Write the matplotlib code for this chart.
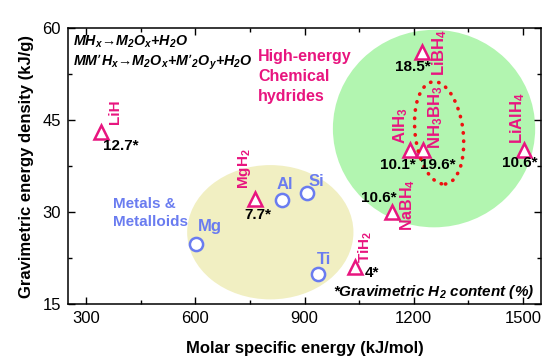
import matplotlib
matplotlib.use('Agg')
import matplotlib.pyplot as plt
from matplotlib.patches import Ellipse
from matplotlib.transforms import ScaledTranslation

plt.rcParams.update({
    'font.family': ['Liberation Sans', 'DejaVu Sans'],
    'mathtext.default': 'regular',
    'font.size': 12,
})

PINK = '#E8157F'
BLUE = '#6A7CF0'

# hydrides: molar specific energy (kJ/mol), gravimetric energy density (kJ/g), H2 wt%
hyd_names = ['LiH', 'MgH$_2$', 'TiH$_2$', 'NaBH$_4$', 'AlH$_3$', 'NH$_3$BH$_3$', 'LiBH$_4$', 'LiAlH$_4$']
hyd_x = [340, 763, 1038, 1140, 1190, 1225, 1222, 1502]
hyd_y = [43.0, 32.1, 21.0, 30.0, 40.1, 40.1, 56.1, 40.1]
hyd_h2 = ['12.7', '7.7', '4', '10.6', '10.1', '19.6', '18.5', '10.6']

# metals & metalloids
met_names = ['Mg', 'Al', 'Si', 'Ti']
met_x = [601, 838, 907, 937]
met_y = [24.8, 32.0, 33.1, 19.9]

# label offsets in pixels (name label, wt% label)
name_off = [(14, 8), (-10, 10), (11, 4), (16, 7), (-9, 6), (13, 1), (18, 0), (-6, 6)]
name_va = ['bottom', 'bottom', 'bottom', 'center', 'bottom', 'bottom', 'center', 'bottom']
name_fs = [11, 11, 11, 11.5, 12, 12, 12, 12]
h2_off = [(20, -14), (3, -16), (17, -6), (-13, 14), (-12, -15), (15, -15), (-9, -15), (-4, -13)]
met_off = [(14, 17), (3, 15), (9, 11), (6, 14)]

fig = plt.figure(figsize=(5.44, 3.57), dpi=100)
ax = fig.add_axes([0.125, 0.1485, 0.8695, 0.773])

# background groupings
ax.add_patch(Ellipse((1256, 43.6), 556, 32.2, facecolor='#B2F5B0', edgecolor='none', zorder=0))
ax.add_patch(Ellipse((806, 26.7), 457, 21.9, facecolor='#F1EFC2', edgecolor='none', zorder=0))

ax.plot(met_x, met_y, ls='none', marker='o', ms=9.5, mfc='white', mec=BLUE, mew=1.8, zorder=3)
ax.plot(hyd_x, hyd_y, ls='none', marker='^', ms=10.5, mfc='white', mec=PINK, mew=1.8, zorder=3)

# dotted outline around NH3BH3 (size in inches, centred on the data point)
tr = fig.dpi_scale_trans + ScaledTranslation(1270, 42.9, ax.transData)
ax.add_patch(Ellipse((0, 0), 0.48, 1.03, angle=7, transform=tr, facecolor='none',
                     edgecolor='#EE1111', lw=2.6, ls=(0, (0.1, 2.2)), capstyle='round', zorder=4))

for i in range(len(hyd_names)):
    ax.annotate(hyd_names[i], (hyd_x[i], hyd_y[i]), xytext=name_off[i], textcoords='offset pixels',
                rotation=90, ha='center', va=name_va[i], color=PINK, fontsize=name_fs[i],
                fontweight='bold', zorder=5)
    ax.annotate(hyd_h2[i] + '*', (hyd_x[i], hyd_y[i]), xytext=h2_off[i], textcoords='offset pixels',
                ha='center', va='center', color='black', fontsize=11, fontweight='bold', zorder=5)

for i in range(len(met_names)):
    ax.annotate(met_names[i], (met_x[i], met_y[i]), xytext=met_off[i], textcoords='offset pixels',
                ha='center', va='center', color=BLUE, fontsize=12, fontweight='bold', zorder=5)

ax.text(0.095, 0.33, 'Metals &\nMetalloids', transform=ax.transAxes, color=BLUE, fontsize=11,
        fontweight='bold', ha='left', va='center', linespacing=1.35)
ax.text(0.402, 0.825, 'High-energy\nChemical\nhydrides', transform=ax.transAxes, color=PINK,
        fontsize=11.5, fontweight='bold', ha='left', va='center', linespacing=1.4)
ax.text(0.01, 0.95, 'MH$_x$\u2192M$_2$O$_x$+H$_2$O', transform=ax.transAxes, fontsize=10.3,
        fontweight='bold', style='italic', ha='left', va='center')
ax.text(0.01, 0.877, 'MM\u2019H$_x$\u2192M$_2$O$_x$+M\u2019$_2$O$_y$+H$_2$O', transform=ax.transAxes,
        fontsize=10.3, fontweight='bold', style='italic', ha='left', va='center')
ax.text(0.985, 0.045, '*Gravimetric H$_2$ content (%)', transform=ax.transAxes, fontsize=11,
        fontweight='bold', style='italic', ha='right', va='center')

ax.set_xlim(250, 1550)
ax.set_ylim(15, 60)
ax.set_xticks([300, 600, 900, 1200, 1500])
ax.set_xticks([450, 750, 1050, 1350], minor=True)
ax.set_yticks([15, 30, 45, 60])
ax.set_yticks([22.5, 37.5, 52.5], minor=True)
ax.tick_params(which='both', direction='in', top=True, right=True, labelsize=12, width=1)
ax.tick_params(which='major', length=5, pad=5)
ax.tick_params(which='minor', length=3)
for s in ax.spines.values():
    s.set_linewidth(1.1)
ax.set_xlabel('Molar specific energy (kJ/mol)', fontweight='bold', fontsize=12, labelpad=11)
ax.set_ylabel('Gravimetric energy density (kJ/g)', fontweight='bold', fontsize=12, labelpad=6)

fig.savefig('out.png', dpi=100)
